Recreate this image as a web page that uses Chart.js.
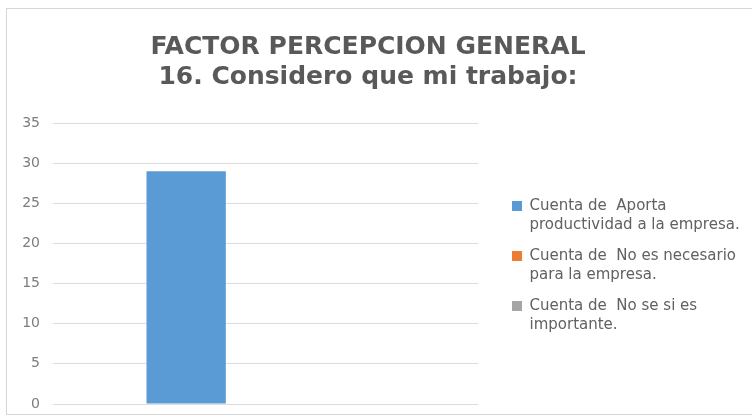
<!DOCTYPE html>
<html>
<head>
<meta charset="utf-8">
<title>Factor percepcion general</title>
<script src="https://cdn.jsdelivr.net/npm/chart.js@4"></script>
<style>
  html, body { margin: 0; padding: 0; background: #fff; }
  #wrap { position: relative; width: 752px; height: 418px; overflow: hidden; }
  #marco { position: absolute; left: 6px; top: 8px; width: 760px; height: 405px; border: 1px solid #d6d6d6; pointer-events: none; }
  #grafico { position: absolute; left: 0; top: 0; }
</style>
</head>
<body>
<div id="wrap">
  <canvas id="grafico" width="752" height="418"></canvas>
  <div id="marco"></div>
</div>
<script>
// datos de la pregunta 16
const categorias = [''];
const titulo = ['FACTOR PERCEPCION GENERAL', '16. Considero que mi trabajo:'];
// etiquetas de la leyenda, una linea por elemento
const etiquetas = [
    ['Cuenta de  Aporta', 'productividad a la empresa.'],
    ['Cuenta de  No es necesario', 'para la empresa.'],
    ['Cuenta de  No se si es', 'importante.']
];
const aporta = [29];
const noNecesario = [0];
const noSe = [0];
const colores = ['#5b9bd5', '#ed7d31', '#a5a5a5'];
const ejeMin = 0;
const ejeMax = 35;
const ejePaso = 5;

const fuente = 'DejaVu Sans';
const gris = '#595959';

// la leyenda usa todo el ancho hasta el borde derecho del lienzo
const leyendaAncha = {
    id: 'leyendaAncha',
    afterLayout(chart) {
        const ley = chart.legend;
        if (!ley) return;
        ley.right = chart.width;
        ley.width = ley.right - ley.left;
    }
};

const ctx = document.getElementById('grafico').getContext('2d');
const grafico = new Chart(ctx, {
    type: 'bar',
    data: {
        labels: categorias,
        datasets: [
            { label: etiquetas[0].join(' '), data: aporta, backgroundColor: colores[0] },
            { label: etiquetas[1].join(' '), data: noNecesario, backgroundColor: colores[1] },
            { label: etiquetas[2].join(' '), data: noSe, backgroundColor: colores[2] }
        ]
    },
    plugins: [leyendaAncha],
    options: {
        responsive: false,
        animation: false,
        events: [],
        categoryPercentage: 0.56,
        barPercentage: 1,
        layout: { padding: { top: 0, right: 16, bottom: 14, left: 0 } },
        plugins: {
            title: {
                display: true,
                text: titulo,
                color: gris,
                font: { family: fuente, size: 25, weight: 'bold', lineHeight: '30px' },
                padding: { top: 32, bottom: 31 }
            },
            legend: {
                position: 'right',
                align: 'center',
                fullSize: false,
                maxWidth: 80,
                // titulo vacio: solo baja un poco los elementos
                title: { display: true, text: '', padding: 0, font: { size: 8, lineHeight: '8px' } },
                labels: {
                    boxWidth: 10,
                    boxHeight: 10,
                    padding: 12,
                    color: '#616161',
                    font: { family: fuente, size: 15, lineHeight: '19px' },
                    // texto en dos lineas
                    generateLabels: (chart) => {
                        const items = Chart.defaults.plugins.legend.labels.generateLabels(chart);
                        items.forEach(it => { it.text = etiquetas[it.datasetIndex]; it.lineWidth = 0; });
                        return items;
                    }
                }
            },
            tooltip: { enabled: false }
        },
        scales: {
            x: { display: false },
            y: {
                min: ejeMin,
                max: ejeMax,
                ticks: { stepSize: ejePaso, padding: 3, color: '#7c7c7c', font: { family: fuente, size: 14 } },
                grid: { color: '#dcdcdc', drawTicks: true, tickLength: 10, tickColor: 'rgba(0,0,0,0)' },
                border: { display: false },
                afterFit: (s) => { s.width = 53; }
            },
            // espacio entre el area del grafico y la leyenda
            hueco: {
                type: 'linear', position: 'right', display: true,
                grid: { display: false }, ticks: { display: false }, border: { display: false },
                afterFit: (s) => { s.width = 22; }
            },
            // margen a la derecha de la leyenda
            margen: {
                type: 'linear', position: 'right', display: true, weight: 2000,
                grid: { display: false }, ticks: { display: false }, border: { display: false },
                afterFit: (s) => { s.width = 156; }
            }
        }
    }
});
</script>
</body>
</html>
